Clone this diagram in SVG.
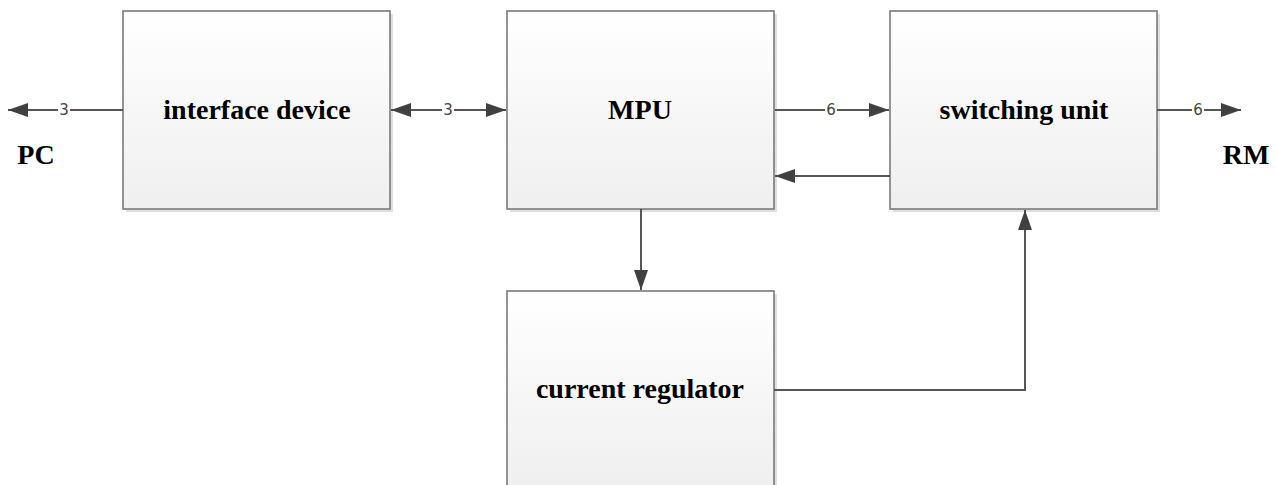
<svg xmlns="http://www.w3.org/2000/svg" width="1276" height="485" viewBox="0 0 1276 485">
<style>
.box{fill:url(#g);stroke:#7a7a7a;stroke-width:1.6}
.sh{fill:#c8c8c8;opacity:0.6}
.t{font-family:"Liberation Serif",serif;font-weight:bold;font-size:28px;fill:#000;text-anchor:middle}
.c{fill:none;stroke:#555;stroke-width:2}
.lb{font-family:"DejaVu Sans","Liberation Sans",sans-serif;font-size:15px;fill:#444;text-anchor:middle}
.lbbg{fill:#fff}
</style>
<defs>
<linearGradient id="g" x1="0" y1="0" x2="0" y2="1">
<stop offset="0" stop-color="#ffffff"/>
<stop offset="1" stop-color="#efefef"/>
</linearGradient>
<marker id="a" viewBox="0 0 20 14" refX="20" refY="7" markerWidth="20" markerHeight="14" markerUnits="userSpaceOnUse" orient="auto-start-reverse">
<path d="M0,0 L20,7 L0,14 Z" fill="#404040"/>
</marker>
</defs>
<g id="interface-device">
<rect class="sh" x="126" y="14" width="267" height="198"/>
<rect class="box" x="123" y="11" width="267" height="198"/>
<text class="t" x="257" y="119">interface device</text>
</g>
<g id="mpu">
<rect class="sh" x="510" y="14" width="267" height="198"/>
<rect class="box" x="507" y="11" width="267" height="198"/>
<text class="t" x="640" y="119">MPU</text>
</g>
<g id="switching-unit">
<rect class="sh" x="893" y="14" width="267" height="198"/>
<rect class="box" x="890" y="11" width="267" height="198"/>
<text class="t" x="1024" y="119">switching unit</text>
</g>
<g id="current-regulator">
<rect class="sh" x="510" y="294" width="267" height="198"/>
<rect class="box" x="507" y="291" width="267" height="198"/>
<text class="t" x="640" y="398">current regulator</text>
</g>
<g id="pc"><text class="t" x="36" y="164">PC</text></g>
<g id="rm"><text class="t" x="1246" y="164">RM</text></g>
<g id="connectors">
<line class="c" x1="123" y1="110" x2="8" y2="110" marker-end="url(#a)"/>
<rect class="lbbg" x="58" y="101" width="12" height="18"/>
<text class="lb" x="64" y="115">3</text>
<line class="c" x1="391" y1="110" x2="506" y2="110" marker-start="url(#a)" marker-end="url(#a)"/>
<rect class="lbbg" x="442" y="101" width="12" height="18"/>
<text class="lb" x="448" y="115">3</text>
<line class="c" x1="775" y1="110" x2="889" y2="110" marker-end="url(#a)"/>
<rect class="lbbg" x="825" y="101" width="12" height="18"/>
<text class="lb" x="831" y="115">6</text>
<line class="c" x1="890" y1="176" x2="775" y2="176" marker-end="url(#a)"/>
<line class="c" x1="1157" y1="110" x2="1241" y2="110" marker-end="url(#a)"/>
<rect class="lbbg" x="1192" y="101" width="12" height="18"/>
<text class="lb" x="1198" y="115">6</text>
<line class="c" x1="641" y1="209" x2="641" y2="290" marker-end="url(#a)"/>
<polyline class="c" points="774,390 1025,390 1025,210" marker-end="url(#a)"/>
</g>
</svg>
